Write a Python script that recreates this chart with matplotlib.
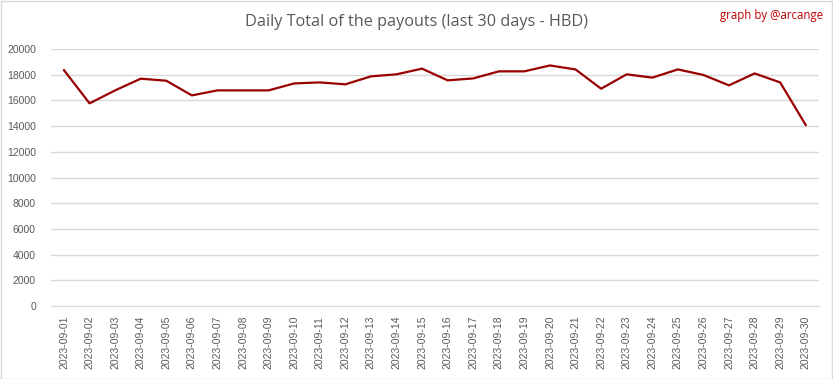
import matplotlib
matplotlib.use("Agg")
from matplotlib import pyplot as plt
from matplotlib.patches import Rectangle

# data
dates = ["2023-09-%02d" % d for d in range(1, 31)]
payouts = [18350, 15770, 16780, 17690, 17530, 16390, 16780, 16780, 16780, 17320,
           17400, 17250, 17870, 18030, 18470, 17560, 17710, 18260, 18260, 18720,
           18410, 16910, 18030, 17770, 18410, 17980, 17170, 18100, 17400, 14090]
y_ticks = list(range(0, 20001, 2000))

fig = plt.figure(figsize=(8.33, 3.79), dpi=100)
ax = fig.add_axes([51.2 / 833, 73 / 379, (818.5 - 51.2) / 833, (306 - 49) / 379])

x = list(range(len(dates)))
ax.plot(x, payouts, color="#990000", linewidth=1.6, zorder=3)

ax.set_xlim(-0.5, len(dates) - 0.5)
ax.set_ylim(0, 20000)
ax.set_yticks(y_ticks)
ax.set_yticklabels([str(v) for v in y_ticks], fontsize=7.5, color="#595959",
                   family="Liberation Sans")
ax.set_xticks(x)
ax.set_xticklabels(dates, rotation=90, fontsize=7.5, color="#595959",
                   family="Liberation Sans")
ax.tick_params(axis="both", length=0)
ax.tick_params(axis="y", pad=11)
ax.tick_params(axis="x", pad=7)
ax.grid(axis="y", color="#d9d9d9", linewidth=1)
for s in ["top", "right", "left"]:
    ax.spines[s].set_visible(False)
ax.spines["bottom"].set_color("#d9d9d9")

fig.text(0.5, 1 - 22 / 379, "Daily Total of the payouts (last 30 days - HBD)",
         ha="center", va="center", fontsize=11.7, color="#595959", family="Open Sans")
fig.text(1 - 10 / 833, 1 - 15 / 379, "graph by @arcange", ha="right", va="center",
         fontsize=8.3, color="#c00000", family="Open Sans")

fig.patches.append(Rectangle((0.5 / 833, 0.5 / 379), 1 - 1.5 / 833, 1 - 1.5 / 379,
                             transform=fig.transFigure, fill=False,
                             edgecolor="#d9d9d9", linewidth=1))

fig.savefig("out.png", dpi=100)
